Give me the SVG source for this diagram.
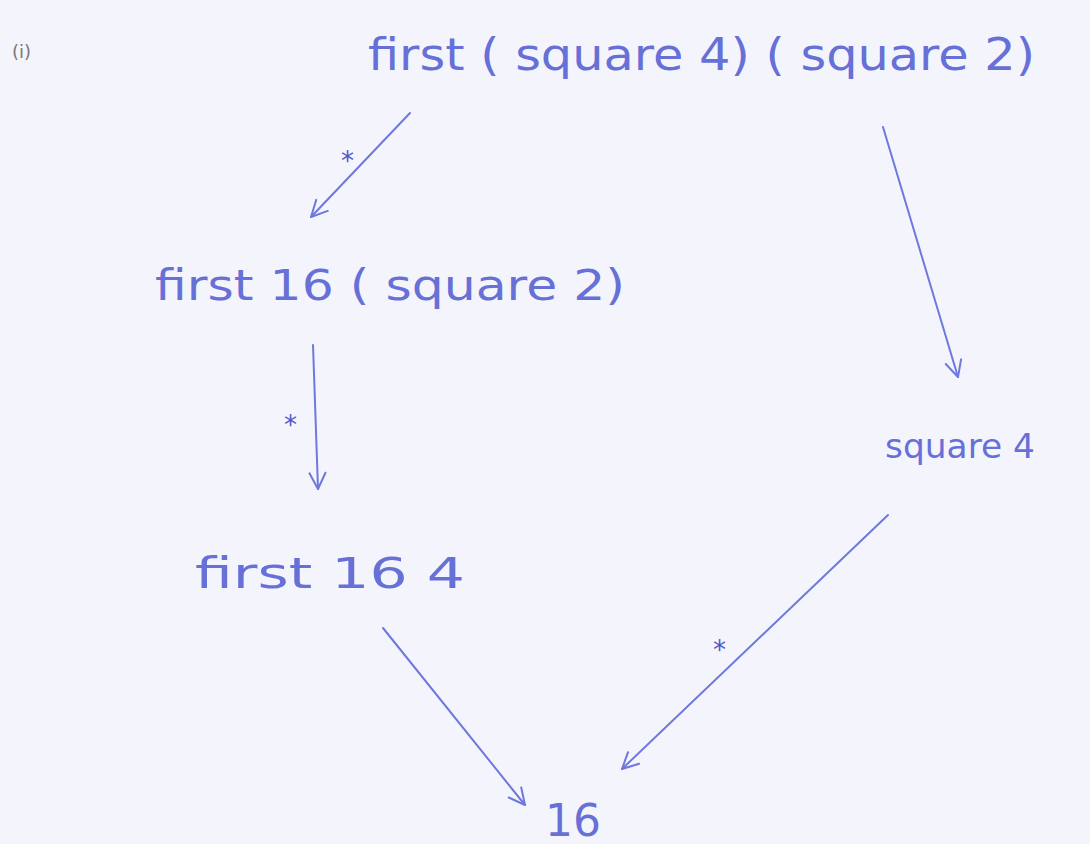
<svg xmlns="http://www.w3.org/2000/svg" width="1090" height="844" viewBox="0 0 1090 844">
<defs>
<style>
.t{font-family:"DejaVu Sans","Liberation Sans",sans-serif;fill:#6670d6;font-weight:normal}
.c{stroke:#6f78dc;stroke-width:2;fill:none;stroke-linecap:round;stroke-linejoin:round}
.s{font-family:"DejaVu Sans",sans-serif;fill:#5058c8;font-size:26px}
</style>
<marker id="ah" viewBox="0 0 20 20" refX="18" refY="10" markerWidth="20" markerHeight="20" markerUnits="userSpaceOnUse" orient="auto">
<path d="M2,2 L18,10 L2,18" fill="none" stroke="#6f78dc" stroke-width="2" stroke-linecap="round" stroke-linejoin="round"/>
</marker>
</defs>
<rect width="1090" height="844" fill="#f4f4fd"/>
<g id="label-i"><text class="t" x="12" y="58" font-size="18" style="fill:#777">(i)</text></g>
<g id="n1"><text class="t" x="368" y="70" font-size="44" textLength="667" lengthAdjust="spacingAndGlyphs">first ( square 4) ( square 2)</text></g>
<g id="n2"><text class="t" x="155" y="300" font-size="42" textLength="470" lengthAdjust="spacingAndGlyphs">first 16 ( square 2)</text></g>
<g id="n3"><text class="t" x="885" y="458" font-size="34" textLength="150" lengthAdjust="spacingAndGlyphs">square 4</text></g>
<g id="n4"><text class="t" x="195" y="588" font-size="42" textLength="270" lengthAdjust="spacingAndGlyphs">first 16 4</text></g>
<g id="n5"><text class="t" x="545" y="836" font-size="44" textLength="56" lengthAdjust="spacingAndGlyphs">16</text></g>
<g id="connectors">
<line class="c" x1="410" y1="113" x2="311" y2="217" marker-end="url(#ah)"/>
<text class="s" x="341" y="170">*</text>
<line class="c" x1="313" y1="345" x2="318" y2="489" marker-end="url(#ah)"/>
<text class="s" x="284" y="434">*</text>
<line class="c" x1="883" y1="127" x2="958" y2="377" marker-end="url(#ah)"/>
<line class="c" x1="888" y1="515" x2="622" y2="769" marker-end="url(#ah)"/>
<text class="s" x="713" y="659">*</text>
<line class="c" x1="383" y1="628" x2="525" y2="805" marker-end="url(#ah)"/>
</g>
</svg>
